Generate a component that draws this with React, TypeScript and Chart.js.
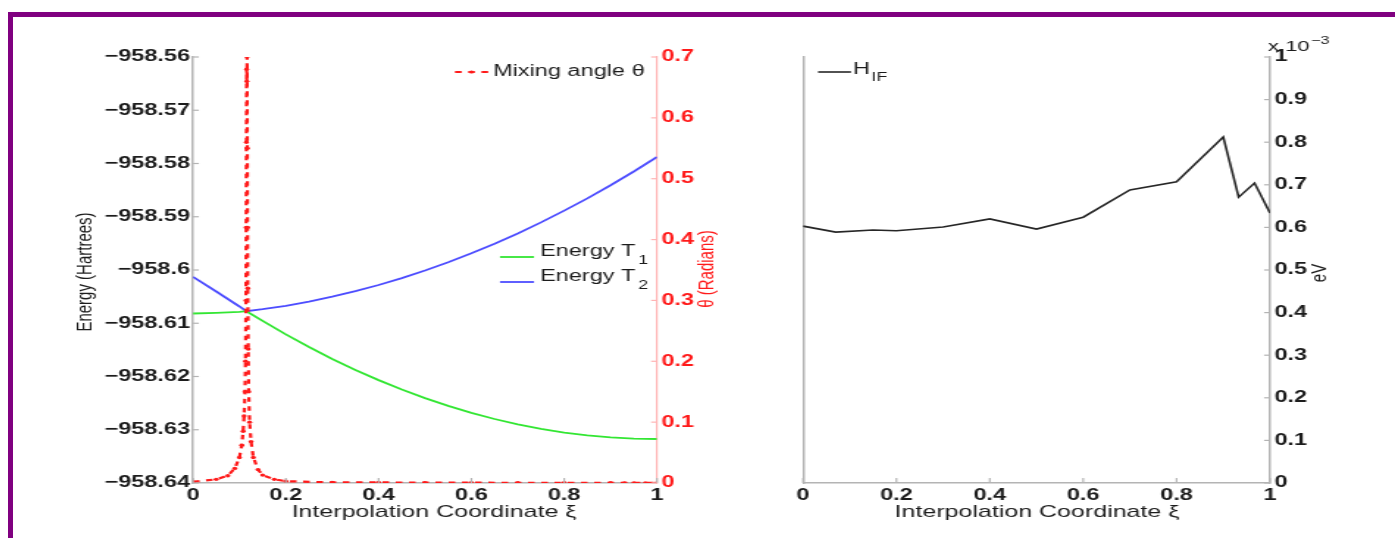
import React, { useEffect, useRef } from "react";
import { Chart, registerables } from "chart.js";

Chart.register(...registerables);

const FONT = "'Liberation Sans', Arial, Helvetica, sans-serif";
const STRETCH = 1.47;
const TOP = 20;
const HEIGHT = 518;
const LEFT_ORIGIN = 40;
const LEFT_W = 490;
const RIGHT_ORIGIN = 760;
const RIGHT_W = 432;

const TEXT = "#1c1c1c";
const RED = "#ff1a1a";
const GREEN = "#33e633";
const BLUE = "#4d4dff";
const AXIS_GRAY = "#b4b4b4";
const AXIS_PINK = "#ffb4b4";

// ---------------- data ----------------
const xTickValues = [0, 0.2, 0.4, 0.6, 0.8, 1];
const energyTickValues = [-958.64, -958.63, -958.62, -958.61, -958.6, -958.59, -958.58, -958.57, -958.56];
const thetaTickValues = [0, 0.1, 0.2, 0.3, 0.4, 0.5, 0.6, 0.7];
const evTickValues = [0, 0.1, 0.2, 0.3, 0.4, 0.5, 0.6, 0.7, 0.8, 0.9, 1];

const energyX = [0, 0.05, 0.1, 0.115, 0.15, 0.2, 0.25, 0.3, 0.35, 0.4, 0.45, 0.5, 0.55, 0.6, 0.65, 0.7, 0.75, 0.8, 0.85, 0.9, 0.95, 1.0];
const energyT1 = [-958.60817, -958.60804, -958.60785, -958.60774, -958.60956, -958.61209, -958.61446, -958.6167, -958.61876, -958.62068, -958.62244, -958.62406, -958.62552, -958.62682, -958.62798, -958.62898, -958.62982, -958.63052, -958.63104, -958.63144, -958.63166, -958.63174];
const energyT2 = [-958.60131, -958.60404, -958.60685, -958.60774, -958.60736, -958.60672, -958.60592, -958.60501, -958.60398, -958.60282, -958.60152, -958.60009, -958.59855, -958.59686, -958.59506, -958.59313, -958.59106, -958.58885, -958.58655, -958.58409, -958.5815, -958.57878];

const thetaX = [0, 0.05, 0.075, 0.09, 0.1, 0.105, 0.108, 0.11, 0.112, 0.113, 0.114, 0.1145, 0.115, 0.1155, 0.116, 0.1165, 0.117, 0.1175, 0.118, 0.119, 0.12, 0.122, 0.125, 0.13, 0.14, 0.15, 0.175, 0.2, 0.3, 0.4, 0.5, 0.6, 0.7, 0.8, 0.9, 0.93, 0.95, 0.975, 1.0];
const thetaY = [0.002, 0.006, 0.012, 0.024, 0.042, 0.062, 0.085, 0.11, 0.15, 0.2, 0.3, 0.42, 0.56, 0.68, 0.66, 0.7, 0.55, 0.42, 0.32, 0.22, 0.15, 0.1, 0.068, 0.042, 0.022, 0.013, 0.006, 0.003, 0.001, 0.001, 0.0005, 0.0005, 0.0004, 0.0003, 0.0003, 0.0002, 0.0002, 0.0002, 0.0002];

const hifX = [0, 0.07, 0.15, 0.2, 0.3, 0.4, 0.5, 0.6, 0.7, 0.8, 0.9, 0.933, 0.967, 1.0];
const hifY = [0.603, 0.589, 0.594, 0.592, 0.601, 0.62, 0.596, 0.624, 0.688, 0.707, 0.812, 0.671, 0.704, 0.634];

const xTitle = "Interpolation Coordinate ξ";
const energyTitle = "Energy (Hartrees)";
const thetaTitle = "θ (Radians)";
const evTitle = "eV";
const thetaLabel = "Mixing angle θ";
const t1Label = ["Energy T", "1"];
const t2Label = ["Energy T", "2"];
const hifLabel = ["H", "IF"];
const scaleNote = ["x 10", "−3"];

// ---------------- helpers ----------------
type Run = { t: string; size: number; dy?: number; gap?: number };

function drawRuns(ctx: CanvasRenderingContext2D, x: number, y: number, runs: Run[], align: "left" | "center", color: string) {
  ctx.save();
  ctx.fillStyle = color;
  ctx.textBaseline = "middle";
  ctx.textAlign = "left";
  const widths = runs.map((r) => {
    ctx.font = `${r.size}px ${FONT}`;
    return ctx.measureText(r.t).width;
  });
  const total = widths.reduce((a, w, i) => a + w + (runs[i].gap || 0), 0);
  let cx = align === "center" ? x - total / 2 : x;
  runs.forEach((r, i) => {
    cx += r.gap || 0;
    ctx.font = `${r.size}px ${FONT}`;
    ctx.fillText(r.t, cx, y + (r.dy || 0));
    cx += widths[i];
  });
  ctx.restore();
}

function drawRotated(ctx: CanvasRenderingContext2D, text: string, x: number, y: number, size: number, color: string) {
  ctx.save();
  ctx.translate(x, y);
  ctx.rotate(-Math.PI / 2);
  ctx.font = `${size}px ${FONT}`;
  ctx.fillStyle = color;
  ctx.textAlign = "center";
  ctx.textBaseline = "middle";
  ctx.fillText(text, 0, 0);
  ctx.restore();
}

function seg(ctx: CanvasRenderingContext2D, x1: number, y1: number, x2: number, y2: number) {
  ctx.beginPath();
  ctx.moveTo(x1, y1);
  ctx.lineTo(x2, y2);
  ctx.stroke();
}

function makeTicksPlugin(items: { id: string; color: string; len: number; width: number }[]) {
  return {
    id: "inwardTicks",
    afterDraw(chart: any) {
      const { ctx, chartArea } = chart;
      items.forEach((it) => {
        const sc = chart.scales[it.id];
        if (!sc) return;
        ctx.save();
        ctx.strokeStyle = it.color;
        ctx.lineWidth = it.width;
        sc.ticks.forEach((t: any) => {
          const p = sc.getPixelForValue(t.value);
          if (sc.isHorizontal()) seg(ctx, p, chartArea.bottom, p, chartArea.bottom - it.len);
          else if (sc.position === "left") seg(ctx, chartArea.left, p, chartArea.left + it.len, p);
          else seg(ctx, chartArea.right, p, chartArea.right - it.len, p);
        });
        ctx.restore();
      });
    },
  };
}

const setTicks = (values: number[]) => (scale: any) => {
  scale.ticks = values.map((v) => ({ value: v }));
};

const fmtEnergy = (v: number) => (v < 0 ? "−" : "") + String(parseFloat(Math.abs(v).toFixed(2)));

const tickFont = { family: FONT, size: 16, weight: "bold" as const };

// ---------------- charts ----------------
function buildLeft() {
  const X = (p: number) => (p - LEFT_ORIGIN) / STRETCH;
  const Y = (p: number) => p - TOP;
  const decor = {
    id: "leftDecor",
    afterDraw(chart: any) {
      const ctx: CanvasRenderingContext2D = chart.ctx;
      const ds = chart.data.datasets;
      drawRotated(ctx, energyTitle, X(85), Y(272), 15, TEXT);
      drawRotated(ctx, thetaTitle, X(707), Y(269), 15, RED);
      drawRuns(ctx, X(434), Y(512), [{ t: xTitle, size: 17 }], "center", TEXT);
      // mixing angle legend
      ctx.save();
      ctx.strokeStyle = ds[0].borderColor;
      ctx.lineWidth = 2;
      ctx.setLineDash([4.5, 4.5]);
      seg(ctx, X(455), Y(72), X(489), Y(72));
      ctx.setLineDash([]);
      ctx.fillStyle = ds[0].borderColor;
      ctx.beginPath();
      ctx.arc(X(471.5), Y(72), 1.6, 0, Math.PI * 2);
      ctx.fill();
      ctx.restore();
      drawRuns(ctx, X(493), Y(72), [{ t: thetaLabel, size: 16 }], "left", TEXT);
      // energy legends
      ctx.save();
      ctx.lineWidth = 1.8;
      ctx.strokeStyle = ds[1].borderColor;
      seg(ctx, X(500), Y(257), X(534), Y(257));
      ctx.strokeStyle = ds[2].borderColor;
      seg(ctx, X(500), Y(282), X(534), Y(282));
      ctx.restore();
      drawRuns(ctx, X(540), Y(252), [{ t: t1Label[0], size: 16 }, { t: t1Label[1], size: 12, dy: 9, gap: 2 }], "left", TEXT);
      drawRuns(ctx, X(540), Y(277), [{ t: t2Label[0], size: 16 }, { t: t2Label[1], size: 12, dy: 9, gap: 2 }], "left", TEXT);
    },
  };
  const ticks = makeTicksPlugin([
    { id: "x", color: AXIS_GRAY, len: 5, width: 1.2 },
    { id: "y", color: AXIS_GRAY, len: 4, width: 1.2 },
    { id: "y2", color: AXIS_PINK, len: 4, width: 1.2 },
  ]);
  return {
    type: "line",
    data: {
      datasets: [
        {
          label: thetaLabel,
          data: thetaX.map((x, i) => ({ x, y: thetaY[i] })),
          yAxisID: "y2",
          borderColor: RED,
          backgroundColor: RED,
          borderWidth: 2.2,
          borderDash: [4.5, 4.5],
          pointRadius: 1.7,
          pointBorderWidth: 0,
          pointBackgroundColor: RED,
          tension: 0,
          fill: false,
        },
        {
          label: t1Label.join(""),
          data: energyX.map((x, i) => ({ x, y: energyT1[i] })),
          yAxisID: "y",
          borderColor: GREEN,
          borderWidth: 1.8,
          pointRadius: 0,
          tension: 0,
          fill: false,
        },
        {
          label: t2Label.join(""),
          data: energyX.map((x, i) => ({ x, y: energyT2[i] })),
          yAxisID: "y",
          borderColor: BLUE,
          borderWidth: 1.8,
          pointRadius: 0,
          tension: 0,
          fill: false,
        },
      ],
    },
    options: {
      responsive: false,
      animation: false,
      events: [],
      layout: { padding: { left: 44.1, right: 30.3, top: 37, bottom: 35 } },
      plugins: { legend: { display: false }, tooltip: { enabled: false } },
      scales: {
        x: {
          type: "linear",
          min: 0,
          max: 1,
          afterBuildTicks: setTicks(xTickValues),
          ticks: { padding: 3, color: TEXT, font: tickFont, maxRotation: 0, autoSkip: false, callback: (v: number) => String(v) },
          grid: { display: false, drawTicks: false },
          border: { display: true, color: AXIS_GRAY, width: 1.5 },
          afterFit: (s: any) => { s.height = 20; },
        },
        y: {
          type: "linear",
          position: "left",
          min: -958.64,
          max: -958.56,
          afterBuildTicks: setTicks(energyTickValues),
          ticks: { padding: 2, color: TEXT, font: tickFont, autoSkip: false, callback: fmtEnergy },
          grid: { display: false, drawTicks: false },
          border: { display: true, color: AXIS_GRAY, width: 1.5 },
          afterFit: (s: any) => { s.width = 60; },
        },
        y2: {
          type: "linear",
          position: "right",
          min: 0,
          max: 0.7,
          afterBuildTicks: setTicks(thetaTickValues),
          ticks: { padding: 3, color: RED, font: tickFont, autoSkip: false, callback: (v: number) => String(v) },
          grid: { display: false, drawTicks: false },
          border: { display: true, color: AXIS_PINK, width: 1.2 },
          afterFit: (s: any) => { s.width = 40; },
        },
      },
    },
    plugins: [ticks, decor],
  };
}

function buildRight() {
  const X = (p: number) => (p - RIGHT_ORIGIN) / STRETCH;
  const Y = (p: number) => p - TOP;
  const decor = {
    id: "rightDecor",
    afterDraw(chart: any) {
      const ctx: CanvasRenderingContext2D = chart.ctx;
      const ds = chart.data.datasets;
      drawRotated(ctx, evTitle, X(1320), Y(273), 15, TEXT);
      drawRuns(ctx, X(1037), Y(512), [{ t: xTitle, size: 17 }], "center", TEXT);
      drawRuns(ctx, X(1268), Y(47), [{ t: scaleNote[0], size: 15 }, { t: scaleNote[1], size: 11, dy: -6, gap: 1 }], "left", TEXT);
      ctx.save();
      ctx.lineWidth = 1.6;
      ctx.strokeStyle = ds[0].borderColor;
      seg(ctx, X(818), Y(72), X(851), Y(72));
      ctx.restore();
      drawRuns(ctx, X(853), Y(70), [{ t: hifLabel[0], size: 16 }, { t: hifLabel[1], size: 12, dy: 8, gap: 1 }], "left", TEXT);
    },
  };
  const ticks = makeTicksPlugin([
    { id: "x", color: AXIS_GRAY, len: 5, width: 1.2 },
    { id: "y", color: AXIS_GRAY, len: 4, width: 1.2 },
  ]);
  return {
    type: "line",
    data: {
      datasets: [
        {
          label: hifLabel.join(""),
          data: hifX.map((x, i) => ({ x, y: hifY[i] })),
          yAxisID: "y",
          borderColor: "#262626",
          borderWidth: 1.6,
          pointRadius: 0,
          tension: 0,
          fill: false,
        },
      ],
    },
    options: {
      responsive: false,
      animation: false,
      events: [],
      layout: { padding: { left: 19.25, right: 45.1, top: 37, bottom: 35 } },
      plugins: { legend: { display: false }, tooltip: { enabled: false } },
      scales: {
        x: {
          type: "linear",
          min: 0,
          max: 1,
          afterBuildTicks: setTicks(xTickValues),
          ticks: { padding: 3, color: TEXT, font: tickFont, maxRotation: 0, autoSkip: false, callback: (v: number) => String(v) },
          grid: { display: false, drawTicks: false },
          border: { display: true, color: AXIS_GRAY, width: 1.5 },
          afterFit: (s: any) => { s.height = 20; },
        },
        yl: {
          type: "linear",
          position: "left",
          min: 0,
          max: 1,
          ticks: { display: false },
          grid: { display: false, drawTicks: false },
          border: { display: true, color: AXIS_GRAY, width: 1.5 },
          afterFit: (s: any) => { s.width = 10; },
        },
        y: {
          type: "linear",
          position: "right",
          min: 0,
          max: 1,
          afterBuildTicks: setTicks(evTickValues),
          ticks: { padding: 3, color: TEXT, font: tickFont, autoSkip: false, callback: (v: number) => String(v) },
          grid: { display: false, drawTicks: false },
          border: { display: true, color: AXIS_GRAY, width: 1.5 },
          afterFit: (s: any) => { s.width = 40; },
        },
      },
    },
    plugins: [ticks, decor],
  };
}

function ChartBox({ left, width, build }: { left: number; width: number; build: () => any }) {
  const ref = useRef<HTMLCanvasElement>(null);
  useEffect(() => {
    const chart = new Chart(ref.current as HTMLCanvasElement, build());
    return () => chart.destroy();
  }, []);
  return (
    <div
      style={{
        position: "absolute",
        left,
        top: TOP,
        width,
        height: HEIGHT,
        transform: `scaleX(${STRETCH})`,
        transformOrigin: "0 0",
      }}
    >
      <canvas ref={ref} width={width} height={HEIGHT} />
    </div>
  );
}

export default function App() {
  return (
    <div style={{ position: "fixed", left: 0, top: 0, right: 0, bottom: 0, overflow: "hidden", background: "#fff" }}>
      <div
        style={{
          position: "absolute",
          left: 8,
          top: 12,
          width: 1600,
          height: 800,
          border: "5px solid #800080",
        }}
      />
      <ChartBox left={LEFT_ORIGIN} width={LEFT_W} build={buildLeft} />
      <ChartBox left={RIGHT_ORIGIN} width={RIGHT_W} build={buildRight} />
    </div>
  );
}
